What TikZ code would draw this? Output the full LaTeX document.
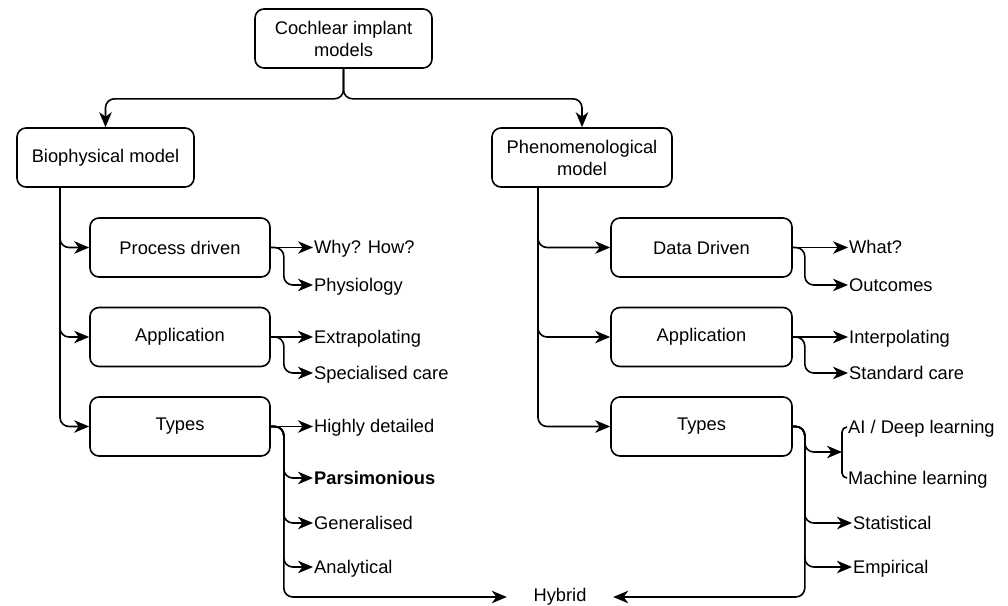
\documentclass[tikz,border=0pt]{standalone}
\usepackage{fontspec}
\setmainfont{Liberation Sans}
\usetikzlibrary{arrows.meta}
\begin{document}
\begin{tikzpicture}[x=1pt,y=-1pt,
  font=\fontsize{18.3}{22}\selectfont,
  box/.style={draw, line width=1.6pt, rounded corners=9pt, minimum height=59pt, align=center, inner sep=2pt},
  leaf/.style={anchor=west, inner xsep=1pt, inner ysep=0pt, text height=12.7pt, text depth=0pt},
  line/.style={line width=1.6pt, rounded corners=9pt},
  arr/.style={line, -{Stealth[length=15pt,width=12.5pt,inset=4.5pt]}},
]
\useasboundingbox (0,0) rectangle (1008,605);
% boxes
\node[box, minimum width=177pt] (root) at (343.5,38.5) {Cochlear implant\\models};
\node[box, minimum width=177pt] (bio) at (105.5,157.5) {Biophysical model};
\node[box, minimum width=180pt] (phen) at (582,157.5) {Phenomenological\\model};
\node[box, minimum width=180pt] (pd) at (180,247.5) {Process driven};
\node[box, minimum width=180pt] (app1) at (180,337) {Application};
\node[box, minimum width=180pt] (types1) at (180,426.5) {Types};
\node[box, minimum width=181pt] (dd) at (701.5,247.5) {Data Driven};
\node[box, minimum width=181pt] (app2) at (701.5,337) {Application};
\node[box, minimum width=181pt] (types2) at (701.5,426.5) {Types};
% leaves left
\node[leaf] (why) at (313,247.5) {Why? How?};
\node[leaf] (phys) at (313,285) {Physiology};
\node[leaf] (extra) at (313,337) {Extrapolating};
\node[leaf] (spec) at (313,373) {Specialised care};
\node[leaf] (high) at (313,426.5) {Highly detailed};
\node[leaf] (pars) at (313,478) {\bfseries Parsimonious};
\node[leaf] (gen) at (313,523) {Generalised};
\node[leaf] (anal) at (313,567) {Analytical};
% leaves right
\node[leaf] (what) at (848,247.5) {What?};
\node[leaf] (outc) at (848,285) {Outcomes};
\node[leaf] (interp) at (848,337) {Interpolating};
\node[leaf] (std) at (848,373) {Standard care};
\node[leaf] (ai) at (847,427) {AI / Deep learning};
\node[leaf] (ml) at (847,478) {Machine learning};
\node[leaf] (stat) at (852,523) {Statistical};
\node[leaf] (emp) at (852,567) {Empirical};
% hybrid
\node[leaf, anchor=center, minimum width=106pt, inner xsep=0pt, text height=8pt] (hyb) at (560,597) {Hybrid};
\coordinate (br) at (842,452);
% top connectors
\draw[arr] (root.south) -- ++(0,30) -| (bio.north);
\draw[arr] (root.south) -- ++(0,30) -| (phen.north);
% biophysical children
\draw[arr] ([xshift=-45.5pt]bio.south) |- (pd.west);
\draw[arr] ([xshift=-45.5pt]bio.south) |- (app1.west);
\draw[arr] ([xshift=-45.5pt]bio.south) |- (types1.west);
% phenomenological children
\draw[arr] ([xshift=-44pt]phen.south) |- (dd.west);
\draw[arr] ([xshift=-44pt]phen.south) |- (app2.west);
\draw[arr] ([xshift=-44pt]phen.south) |- (types2.west);
% left leaves
\draw[arr] (pd.east) -- (why.west);
\draw[arr] (pd.east) -- ++(13,0) |- (phys.west);
\draw[arr] (app1.east) -- (extra.west);
\draw[arr] (app1.east) -- ++(13,0) |- (spec.west);
\draw[arr] (types1.east) -- (high.west);
\draw[arr] (types1.east) -- ++(13,0) |- (pars.west);
\draw[arr] (types1.east) -- ++(13,0) |- (gen.west);
\draw[arr] (types1.east) -- ++(13,0) |- (anal.west);
\draw[arr] (types1.east) -- ++(13,0) |- (hyb.west);
% right leaves
\draw[arr] (dd.east) -- (what.west);
\draw[arr] (dd.east) -- ++(12,0) |- (outc.west);
\draw[arr] (app2.east) -- (interp.west);
\draw[arr] (app2.east) -- ++(12,0) |- (std.west);
\draw[arr] (types2.east) -- ++(12,0) |- (br);
\draw[arr] (types2.east) -- ++(12,0) |- (stat.west);
\draw[arr] (types2.east) -- ++(12,0) |- (emp.west);
\draw[arr] (types2.east) -- ++(12,0) |- (hyb.east);
% brace
\draw[line, rounded corners=5pt] (ai.west) -| (br) |- (ml.west);
\end{tikzpicture}
\end{document}
